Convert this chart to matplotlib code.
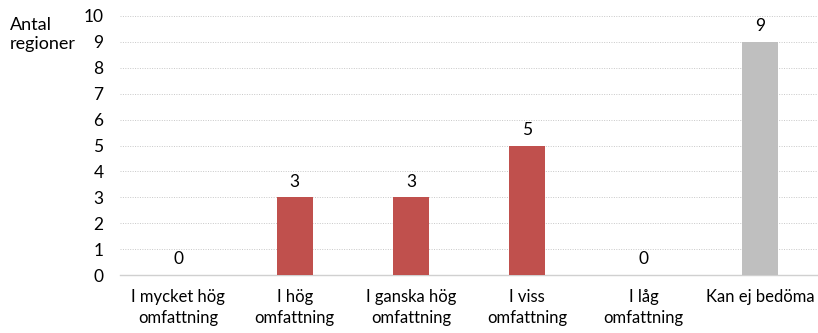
import numpy as np
import matplotlib.pyplot as plt

categories = ["I mycket hög\nomfattning", "I hög\nomfattning", "I ganska hög\nomfattning",
              "I viss\nomfattning", "I låg\nomfattning", "Kan ej bedöma"]
values = [0, 3, 3, 5, 0, 9]
bar_colors = ["#C0504D", "#C0504D", "#C0504D", "#C0504D", "#C0504D", "#BFBFBF"]

plt.rcParams['font.family'] = ['Lato', 'DejaVu Sans']

fig = plt.figure(figsize=(8.18, 3.33), dpi=100)
ax = fig.add_axes([0.147, 0.174, 0.853, 0.778])

x = np.arange(len(categories))
ax.bar(x, values, width=0.31, color=bar_colors, zorder=3)
for xi, v in zip(x, values):
    ax.text(xi, v + 0.3, str(v), ha='center', va='bottom', fontsize=12.5)

ax.set_xlim(-0.5, len(categories) - 0.5)
ax.set_ylim(0, 10)
ax.set_yticks(range(0, 11))
ax.set_xticks(x)
ax.set_xticklabels(categories, fontsize=12, linespacing=1.4)
ax.tick_params(axis='y', labelsize=12.5, length=0, pad=12)
ax.tick_params(axis='x', length=0, pad=10)
ax.grid(axis='y', linestyle=(0, (1, 1.5)), color='#C8C8C8', linewidth=0.7, zorder=0)

for s in ['top', 'right', 'left']:
    ax.spines[s].set_visible(False)
ax.spines['bottom'].set_color('#D0D0D0')
ax.spines['bottom'].set_linewidth(1.0)

fig.text(0.012, 0.95, "Antal\nregioner", fontsize=13, va='top', ha='left', linespacing=1.25)

fig.savefig("out.png", dpi=100)
